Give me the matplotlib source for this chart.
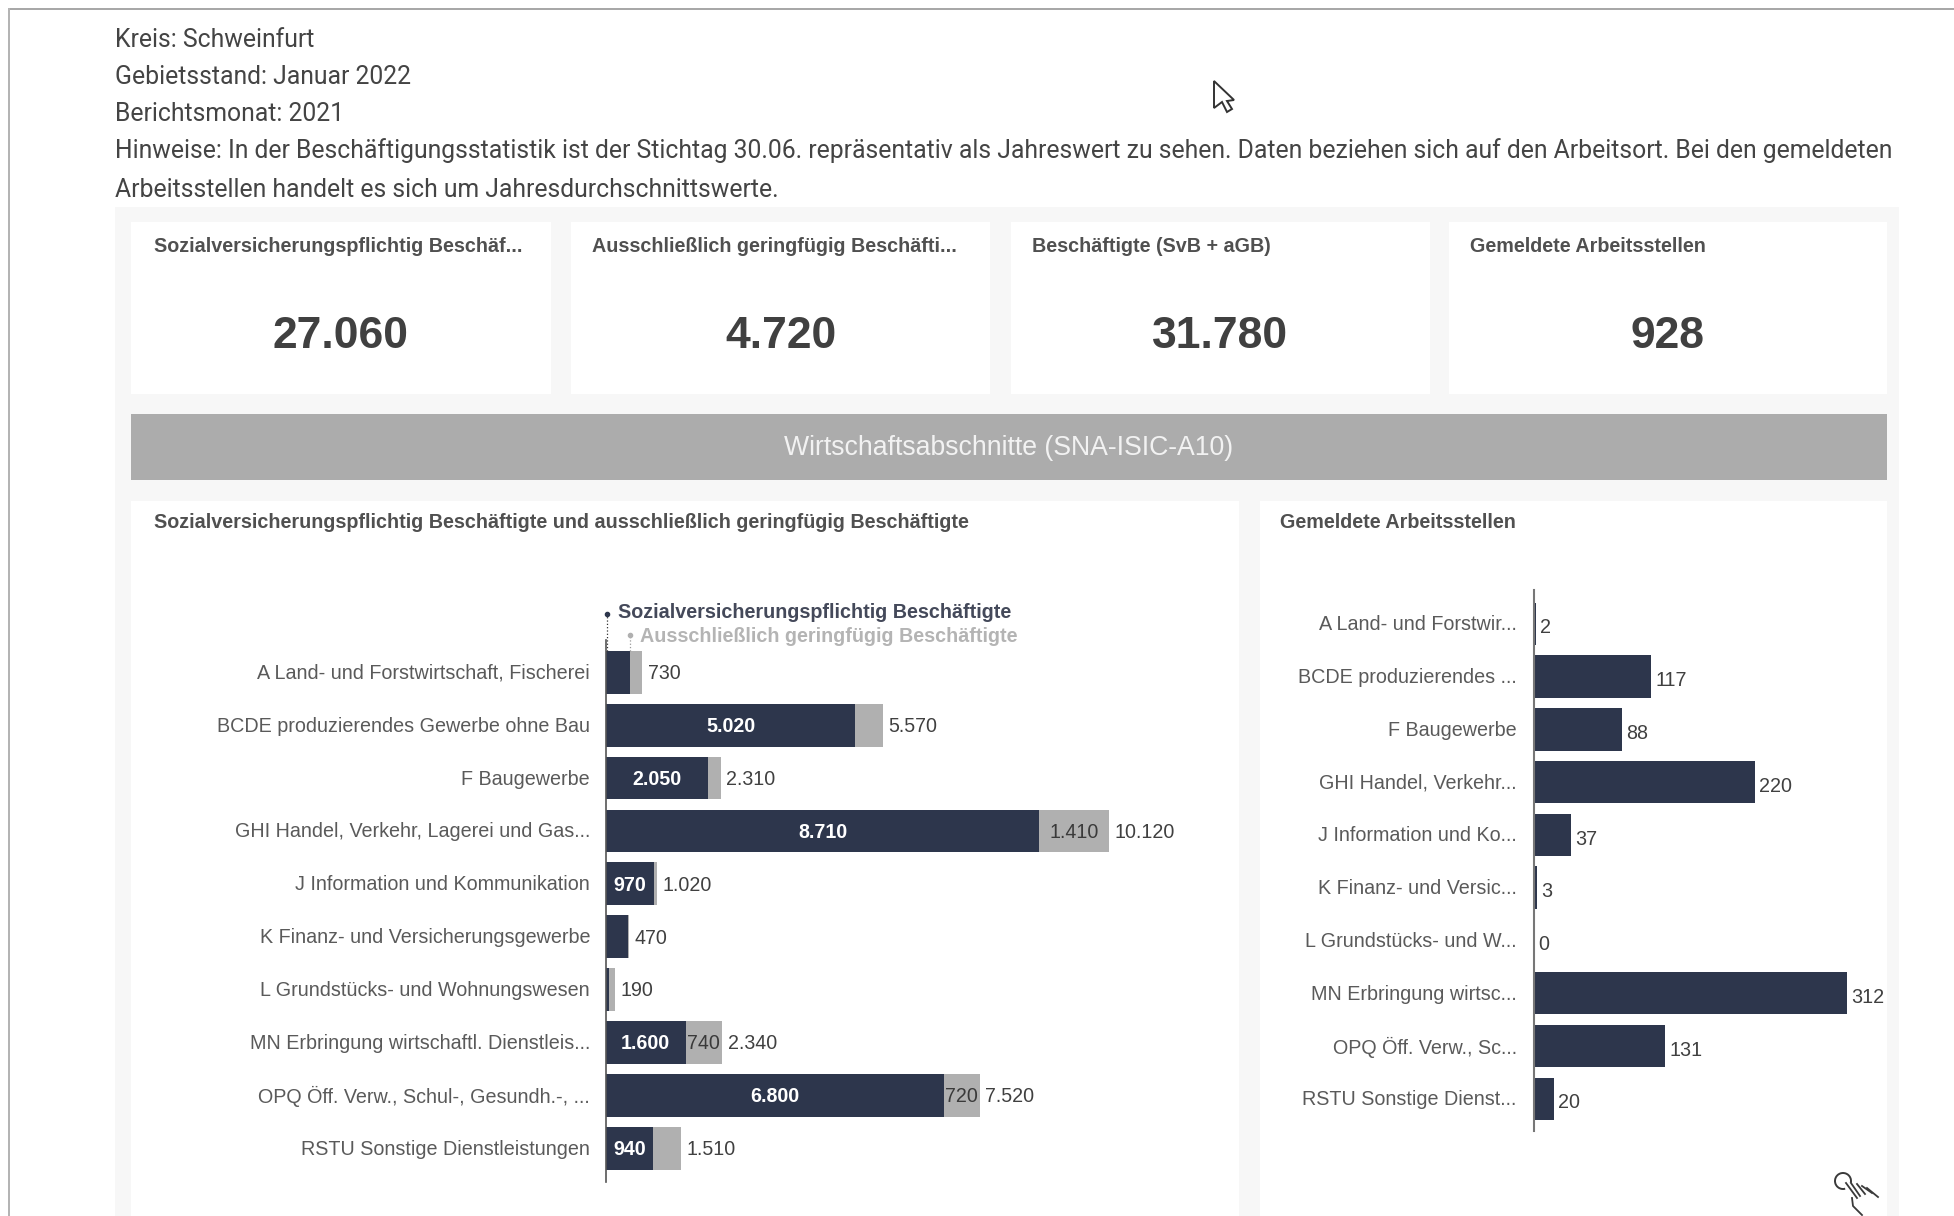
import numpy as np
import matplotlib
matplotlib.use('Agg')
import matplotlib.pyplot as plt
from matplotlib.lines import Line2D
from matplotlib.patches import Rectangle, Polygon, Arc
from matplotlib.transforms import ScaledTranslation

W, H = 1954, 1216

header_lines = ['Kreis: Schweinfurt', 'Gebietsstand: Januar 2022', 'Berichtsmonat: 2021',
                'Hinweise: In der Beschäftigungsstatistik ist der Stichtag 30.06. repräsentativ als Jahreswert zu sehen. Daten beziehen sich auf den Arbeitsort. Bei den gemeldeten',
                'Arbeitsstellen handelt es sich um Jahresdurchschnittswerte.']

kpi_titles = ['Sozialversicherungspflichtig Beschäf...', 'Ausschließlich geringfügig Beschäfti...',
              'Beschäftigte (SvB + aGB)', 'Gemeldete Arbeitsstellen']
kpi_values = ['27.060', '4.720', '31.780', '928']

banner = 'Wirtschaftsabschnitte (SNA-ISIC-A10)'
left_title = 'Sozialversicherungspflichtig Beschäftigte und ausschließlich geringfügig Beschäftigte'
right_title = 'Gemeldete Arbeitsstellen'
legend_svb = 'Sozialversicherungspflichtig Beschäftigte'
legend_agb = 'Ausschließlich geringfügig Beschäftigte'

left_cats = ['A Land- und Forstwirtschaft, Fischerei', 'BCDE produzierendes Gewerbe ohne Bau',
             'F Baugewerbe', 'GHI Handel, Verkehr, Lagerei und Gas...', 'J Information und Kommunikation',
             'K Finanz- und Versicherungsgewerbe', 'L Grundstücks- und Wohnungswesen',
             'MN Erbringung wirtschaftl. Dienstleis...', 'OPQ Öff. Verw., Schul-, Gesundh.-, ...',
             'RSTU Sonstige Dienstleistungen']
svb = [490, 5020, 2050, 8710, 970, 440, 60, 1600, 6800, 940]
agb = [240, 550, 260, 1410, 50, 30, 130, 740, 720, 570]
totals = [730, 5570, 2310, 10120, 1020, 470, 190, 2340, 7520, 1510]
# which segments carry a label in the picture
svb_labels = ['', '5.020', '2.050', '8.710', '970', '', '', '1.600', '6.800', '940']
agb_labels = ['', '', '', '1.410', '', '', '', '740', '720', '']
total_labels = ['730', '5.570', '2.310', '10.120', '1.020', '470', '190', '2.340', '7.520', '1.510']

right_cats = ['A Land- und Forstwir...', 'BCDE produzierendes ...', 'F Baugewerbe', 'GHI Handel, Verkehr...',
              'J Information und Ko...', 'K Finanz- und Versic...', 'L Grundstücks- und W...',
              'MN Erbringung wirtsc...', 'OPQ Öff. Verw., Sc...', 'RSTU Sonstige Dienst...']
stellen = [2, 117, 88, 220, 37, 3, 0, 312, 131, 20]

DARK = '#2d364c'
GREY = '#b0b0b0'
LABEL = '#5a5a5a'

plt.rcParams['font.family'] = ['Liberation Sans', 'DejaVu Sans']

fig = plt.figure(figsize=(W / 100, H / 100), dpi=100, facecolor='white')


def box(x0, y0, x1, y1, color, z=1):
    fig.add_artist(Rectangle((x0 / W, 1 - y1 / H), (x1 - x0) / W, (y1 - y0) / H, transform=fig.transFigure,
                             facecolor=color, edgecolor='none', zorder=z))


def txt(x, y, s, **kw):
    kw.setdefault('va', 'center')
    fig.text(x / W, 1 - y / H, s, zorder=5, **kw)


def px_axes(x0, y0, x1, y1):
    ax = fig.add_axes([x0 / W, 1 - y1 / H, (x1 - x0) / W, (y1 - y0) / H], zorder=3)
    ax.patch.set_alpha(0)
    for s in ['top', 'right', 'bottom']:
        ax.spines[s].set_visible(False)
    ax.tick_params(length=0)
    ax.set_xticks([])
    return ax


def raise_ticklabels(ax, pts):
    for lab in ax.get_yticklabels():
        lab.set_transform(lab.get_transform() + ScaledTranslation(0, pts / 72, fig.dpi_scale_trans))


def stroke(xs, ys, lw=1.3):
    fig.add_artist(Line2D(np.array(xs) / W, 1 - np.array(ys) / H, transform=fig.transFigure,
                          color='#3a3a3a', lw=lw, zorder=6))


# frame of the screenshot
box(9, 8, W, 10, '#a8a8a8')
box(8, 8, 10, H, '#b4b4b4')

# header
for y, line in zip([40, 77, 114, 151, 190], header_lines):
    txt(115, y, line, family=['Roboto', 'DejaVu Sans'], fontsize=17.85, color='#444444')

# panels
box(115, 207, 1899, H, '#f7f7f7')
cards = [(131, 551), (571, 990), (1011, 1430), (1449, 1887)]
title_x = [154.5, 592, 1032, 1470]
for (x0, x1), tx, title, val in zip(cards, title_x, kpi_titles, kpi_values):
    box(x0, 222, x1, 394, 'white', 2)
    txt(tx, 246, title, fontsize=14.25, fontweight='bold', color='#505050')
    txt((x0 + x1) / 2, 337, val, ha='center', fontsize=32, fontweight='bold', color='#404040')
box(131, 414, 1887, 480, '#acacac', 2)
txt(1009, 448, banner, ha='center', fontsize=19.15, color='#f2f2f2')
box(131, 501, 1239, H, 'white', 2)
box(1260, 501, 1887, H, 'white', 2)
txt(154, 523, left_title, fontsize=14.25, fontweight='bold', color='#505050')
txt(1280, 523, right_title, fontsize=14.25, fontweight='bold', color='#505050')

# left chart
pos = np.arange(len(left_cats))
ax = px_axes(606, 639.5, 1200, 1181.5)
ax.barh(pos, svb, height=0.81, color=DARK)
ax.barh(pos, agb, left=svb, height=0.81, color=GREY)
ax.set_xlim(0, 594 / 0.0497)
ax.set_ylim(9.63, -0.62)
ax.set_yticks(pos)
ax.set_yticklabels(left_cats, fontsize=14.25, color=LABEL)
ax.tick_params(axis='y', pad=11.5)
raise_ticklabels(ax, 0.7)
ax.spines['left'].set_color('#555555')
ax.spines['left'].set_linewidth(1.2)
for i in pos:
    if svb_labels[i]:
        ax.annotate(svb_labels[i], (svb[i] / 2, i), xytext=(0, -1), textcoords='offset points', ha='center',
                    va='center', fontsize=14.1, fontweight='bold', color='white')
    if agb_labels[i]:
        ax.annotate(agb_labels[i], (svb[i] + agb[i] / 2, i), xytext=(0, -1), textcoords='offset points', ha='center',
                    va='center', fontsize=14.1, color='#3a3a3a')
    ax.annotate(total_labels[i], (totals[i], i), xytext=(4, -1), textcoords='offset points',
                va='center', fontsize=14.1, color='#404040')

# legend leaders hang on the first bar
ax.plot([30, 30], [-0.41, -1.1], ls=':', lw=0.9, color='#333333', clip_on=False)
ax.plot([30], [-1.1], 'o', ms=3, color=DARK, clip_on=False)
ax.plot([svb[0], svb[0]], [-0.41, -0.7], ls=':', lw=0.9, color='#999999', clip_on=False)
ax.plot([svb[0]], [-0.7], 'o', ms=3, color=GREY, clip_on=False)
txt(618, 612, legend_svb, fontsize=14.25, fontweight='bold', color='#44495a')
txt(640, 637, legend_agb, fontsize=14.25, fontweight='bold', color='#b4b4b4')

# right chart
pos2 = np.arange(len(right_cats))
ax2 = px_axes(1534, 590, 1880, 1131)
ax2.barh(pos2, stellen, height=0.805, color=DARK)
ax2.set_xlim(0, 346 / 1.003)
ax2.set_ylim(9.61, -0.64)
ax2.set_yticks(pos2)
ax2.set_yticklabels(right_cats, fontsize=14.2, color=LABEL)
ax2.tick_params(axis='y', pad=12.5)
raise_ticklabels(ax2, 0.7)
ax2.spines['left'].set_color('#777777')
ax2.spines['left'].set_linewidth(1.5)
for i in pos2:
    ax2.annotate(str(stellen[i]), (stellen[i], i), xytext=(3, -3), textcoords='offset points',
                 va='center', fontsize=14.2, color='#404040')

# mouse pointers from the screenshot
arrow = np.array([[1214, 81], [1214, 108], [1222, 102], [1227, 112], [1232, 109], [1227, 101], [1234, 100]])
fig.add_artist(Polygon(np.c_[arrow[:, 0] / W, 1 - arrow[:, 1] / H], closed=True, facecolor='white',
                       edgecolor='#333333', lw=1.4, transform=fig.transFigure, zorder=6))
fig.add_artist(Arc((1843 / W, 1 - 1181 / H), 16 / W, 16 / H, theta1=-20, theta2=280, transform=fig.transFigure,
                   color='#3a3a3a', lw=1.4, zorder=6))
stroke([1846, 1857], [1183, 1198])
stroke([1851, 1860], [1183, 1196])
stroke([1857, 1865], [1184, 1194])
stroke([1862, 1872], [1186, 1193])
stroke([1867, 1878], [1188, 1197])
stroke([1852, 1853, 1862], [1198, 1206, 1215])

fig.savefig('out.png', dpi=100)
